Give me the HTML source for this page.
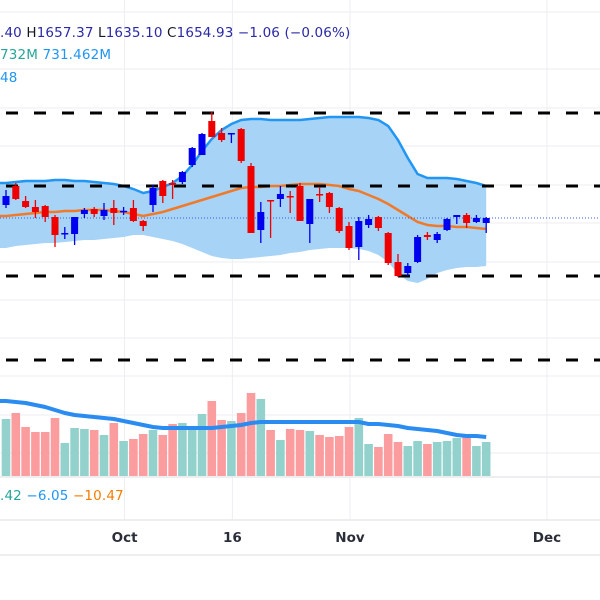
<!DOCTYPE html>
<html><head><meta charset="utf-8"><style>
html,body{margin:0;padding:0;background:#fff;width:600px;height:600px;overflow:hidden;font-family:"DejaVu Sans",sans-serif}
svg{position:absolute;left:0;top:0}
text{font-family:"DejaVu Sans","Liberation Sans",sans-serif}
</style></head><body>
<svg id="chart" width="600" height="600"></svg>
<script>
const opens=[1661.5,1671,1663.5,1660.5,1661,1655.5,1647,1647,1657,1659.5,1656,1660,1658.5,1660,1653.5,1661.5,1673.5,1672.5,1673,1681.5,1686.5,1703.5,1697.5,1697,1699.5,1681,1649,1664,1664.5,1666,1671,1652,1667,1667.5,1660,1651,1640.5,1651.5,1655.5,1647.5,1633,1627.5,1633,1646.5,1644,1649,1655.5,1656.5,1653,1652.5];
const highs=[1669,1672.5,1666,1664,1661.5,1656.5,1650.5,1655.5,1660,1660.5,1662.5,1664,1660.5,1664,1654,1671.5,1674,1674,1678.5,1690.5,1697.5,1708,1700,1697.5,1700,1682.5,1663,1664,1671,1668.5,1672.5,1664.5,1670.5,1668,1660.5,1653,1655.5,1656.5,1656,1648,1637,1632.5,1646.5,1648,1648,1655,1656.5,1657.5,1656.5,1655.5];
const lows=[1660,1664,1660,1655,1653,1640.5,1644.5,1641.5,1655,1655.5,1654,1651.5,1656.5,1653,1648.5,1658,1662.5,1664.5,1672,1680.5,1686.5,1695.5,1693,1692.5,1682.5,1647.5,1642.5,1645,1660.5,1657.5,1653.5,1642.5,1663,1657.5,1647.5,1639,1634,1650,1648.5,1631.5,1625.5,1626,1632.5,1644,1642.5,1648.5,1652,1650,1652.5,1647.5];
const closes=[1666,1664.5,1660.5,1658,1655.5,1646.5,1647.5,1655.5,1659,1657,1659,1657.5,1658.6,1653.5,1651,1670,1666,1671.5,1678,1690,1697,1695.5,1694,1697.5,1683.5,1647.5,1658,1663.5,1667,1665.5,1653.5,1664.5,1666.5,1660.5,1648.5,1640,1653.5,1654.5,1650,1632.5,1626,1631,1645.5,1645.5,1647,1654.5,1656.5,1652.5,1655,1655];
const bbUpper=[1672.5,1673,1673.5,1673.5,1673.5,1674,1674,1673.5,1673.5,1673,1672.5,1672,1671,1669.5,1667.5,1668.5,1670.5,1672.5,1676,1681.5,1688.5,1694.5,1699,1702,1704,1704.5,1704.5,1704,1704,1704,1704,1704.5,1705,1705.5,1705.5,1705.5,1705.5,1705,1704,1701,1694,1685,1677,1675,1675,1675,1674.5,1673.5,1672.5,1671];
const bbMid=[1656,1656.5,1657,1657.5,1658,1658,1658.5,1658.5,1659,1659,1659,1658.5,1658,1657,1656,1657,1658,1659.5,1661,1662.5,1664,1665.5,1667,1668.5,1670,1670.5,1670.5,1671,1671,1671.5,1672,1672,1672,1671.5,1671,1669.5,1668.5,1666.5,1664.5,1662,1659,1656,1653,1651.5,1651,1651,1650.5,1650.5,1650,1649.5];
const bbLower=[1640,1641,1641.5,1642,1642.5,1642.5,1643,1643.5,1644,1644,1644.5,1645,1645.5,1646.5,1646.5,1645.5,1644.5,1643.5,1642,1640,1638,1636,1635,1634.5,1634.5,1635,1635.5,1636,1636.5,1637.5,1638,1639,1639.5,1640,1640,1640,1639.5,1638.5,1636.5,1633,1627,1623.5,1622.5,1624.5,1627.5,1629,1630,1630.5,1630.5,1631];
const volumes=[570,630,490,440,440,580,330,480,470,460,410,530,350,370,420,460,410,520,530,490,620,750,560,550,630,830,770,460,360,470,460,450,410,390,400,490,580,320,290,420,340,300,350,320,340,350,380,390,300,340];
const volMA=[750,740,730,710,690,660,630,610,600,590,580,570,550,530,510,490,480,480,480,480,480,480,490,500,510,530,540,540,540,540,540,540,540,540,540,540,540,520,520,510,500,480,470,460,450,430,410,400,400,390];
const levels=[1707.5,1671,1626,1584];
const lastPrice=1655;
const xTickLabels=["Oct","16","Nov","Dec"];
const xTickIdx=[12.1,23.1,35.1,55.2];

const NS="http://www.w3.org/2000/svg";
const svg=document.getElementById('chart');
function X(i){return 6+i*9.8;}
function PY(p){return (1764-p)*2;}
function VY(v){return 476-v/10;}
function el(tag,attrs,parent){const e=document.createElementNS(NS,tag);for(const k in attrs)e.setAttribute(k,attrs[k]);(parent||svg).appendChild(e);return e;}

const gridG=el('g',{});


[12,69,108,146,185,223,262,300,338,376,415,453].forEach(y=>el('line',{x1:0,x2:600,y1:y,y2:y,stroke:'#eceef2','stroke-width':1},gridG));
xTickIdx.forEach(i=>el('line',{x1:X(i),x2:X(i),y1:0,y2:520,stroke:'#eceef2','stroke-width':1},gridG));
[477,520,555].forEach(y=>el('line',{x1:0,x2:600,y1:y,y2:y,stroke:'#e6e8ec','stroke-width':1.5},gridG));

let up=bbUpper.map((v,i)=>[X(i),PY(v)]), lo=bbLower.map((v,i)=>[X(i),PY(v)]);
up.unshift([0,PY(bbUpper[0])]); lo.unshift([0,PY(bbLower[0])]);
let d='M'+up.map(p=>p.join(',')).join('L')+'L'+lo.slice().reverse().map(p=>p.join(',')).join('L')+'Z';
const fill=el('path',{d:d,fill:'#a7d3f7'});


const upL=el('polyline',{points:up.map(p=>p.join(',')).join(' '),fill:'none',stroke:'#2196f3','stroke-width':2.5});


const midPts=bbMid.map((v,i)=>[X(i),PY(v)]);midPts.unshift([0,PY(bbMid[0])]);
const midL=el('polyline',{points:midPts.map(p=>p.join(',')).join(' '),fill:'none',stroke:'#f07a2a','stroke-width':2.5});



levels.forEach(l=>{const ln=el('line',{x1:0,x2:600,y1:PY(l),y2:PY(l),stroke:'#000','stroke-width':3,'stroke-dasharray':'12,16','stroke-dashoffset':'-6'});

});

const lp=el('line',{x1:0,x2:600,y1:PY(lastPrice),y2:PY(lastPrice),stroke:'#3b5bdb','stroke-width':1,'stroke-dasharray':'1,2'});



opens.forEach((o,i)=>{
  const c=closes[i],upc=c>=o,col=upc?'#0000ee':'#ee0000';
  const g=el('g',{});
  
  
  el('line',{x1:X(i),x2:X(i),y1:PY(highs[i]),y2:PY(lows[i]),stroke:col,'stroke-width':1.3},g);
  const top=PY(Math.max(o,c)),h=Math.max(1.5,PY(Math.min(o,c))-top);
  el('rect',{x:X(i)-3.5,y:top,width:7,height:h,fill:col},g);
});

volumes.forEach((v,i)=>{
  const r=el('rect',{x:X(i)-4.3,y:VY(v),width:8.6,height:476-VY(v),fill:closes[i]>=opens[i]?'#93d2cc':'#fb9c9f'});
  
  
});
const vp=volMA.map((v,i)=>[X(i),VY(v)]);vp.unshift([0,VY(volMA[0])]);
const vl=el('polyline',{points:vp.map(p=>p.join(',')).join(' '),fill:'none',stroke:'#2a8cf0','stroke-width':4,'stroke-linejoin':'round'});



xTickLabels.forEach((t,i)=>{const tx=el('text',{x:X(xTickIdx[i]),y:542,'text-anchor':'middle','font-size':13.5,'font-weight':'bold',fill:'#2a2e39'});tx.textContent=t;

});

function leg(y,parts,name){const t=el('text',{x:0,y:y,'font-size':13.5,'letter-spacing':'0.15'});


parts.forEach(p=>{const s=el('tspan',{fill:p[1]},t);s.textContent=p[0];});}
leg(37,[['.40 ','#2a2aa8'],[' H','#131722'],['1657.37 ','#2a2aa8'],[' L','#131722'],['1635.10 ','#2a2aa8'],[' C','#131722'],['1654.93 ','#2a2aa8'],[' −1.06 (−0.06%)','#2a2aa8']],'ohlc-legend');
leg(59,[['732M ','#26a69a'],[' 731.462M','#2196f3']],'volume-legend');
leg(82,[['48','#2196f3']],'bb-legend');
leg(500,[['.42 ','#26a69a'],[' −6.05 ','#2196f3'],[' −10.47','#f57c00']],'indicator-legend');
</script>
</body></html>
